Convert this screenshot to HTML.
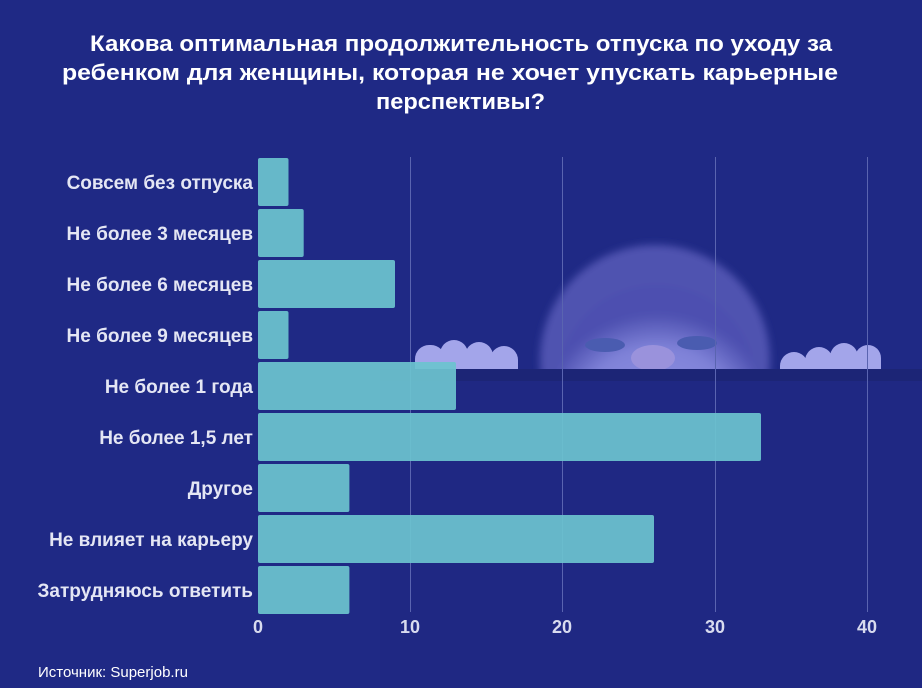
<!DOCTYPE html>
<html><head><meta charset="utf-8"><style>
body{margin:0;width:922px;height:688px;overflow:hidden;background:#1f2985;font-family:"Liberation Sans",sans-serif}
</style></head><body>
<svg width="922" height="688" xmlns="http://www.w3.org/2000/svg" style="position:absolute;left:0;top:0">
<defs>
<radialGradient id="face" cx="0.5" cy="0.75" r="0.6"><stop offset="0" stop-color="#9496e6"/><stop offset="0.7" stop-color="#7f82d8"/><stop offset="1" stop-color="#4d50b0"/></radialGradient>
<filter id="bl"><feGaussianBlur stdDeviation="4"/></filter>
</defs>
<rect width="922" height="688" fill="#1f2985"/>
<g filter="url(#bl)">
<ellipse cx="655" cy="360" rx="115" ry="115" fill="#4f53b0"/>
<ellipse cx="657" cy="380" rx="98" ry="95" fill="url(#face)"/>
</g>
<ellipse cx="605" cy="345" rx="20" ry="7" fill="#4a5cb0"/>
<ellipse cx="697" cy="343" rx="20" ry="7" fill="#4a5cb0"/>
<ellipse cx="653" cy="358" rx="22" ry="13" fill="#9a92dc"/>
<g fill="#a3a5ea">
<rect x="415" y="345" width="30" height="40" rx="14"/><rect x="440" y="340" width="28" height="50" rx="14"/><rect x="465" y="342" width="28" height="52" rx="14"/><rect x="490" y="346" width="28" height="40" rx="14"/>
<rect x="780" y="352" width="28" height="36" rx="14"/><rect x="805" y="347" width="28" height="48" rx="14"/><rect x="830" y="343" width="28" height="46" rx="14"/><rect x="855" y="345" width="26" height="40" rx="13"/>
</g>
<rect x="380" y="369" width="542" height="319" fill="#1f2883"/>
<rect x="380" y="369" width="542" height="12" fill="#1c2576"/>
<g stroke="#5a64b0" stroke-width="1">
<line x1="410.5" y1="157" x2="410.5" y2="612"/><line x1="562.5" y1="157" x2="562.5" y2="612"/><line x1="715.5" y1="157" x2="715.5" y2="612"/><line x1="867.5" y1="157" x2="867.5" y2="612"/>
</g>
<g fill="#6cc3cf" fill-opacity="0.93">
<rect x="258" y="158" width="30.5" height="48" rx="2"/>
<rect x="258" y="209" width="45.7" height="48" rx="2"/>
<rect x="258" y="260" width="137" height="48" rx="2"/>
<rect x="258" y="311" width="30.5" height="48" rx="2"/>
<rect x="258" y="362" width="198" height="48" rx="2"/>
<rect x="258" y="413" width="503" height="48" rx="2"/>
<rect x="258" y="464" width="91.4" height="48" rx="2"/>
<rect x="258" y="515" width="396" height="48" rx="2"/>
<rect x="258" y="566" width="91.4" height="48" rx="2"/>
</g>
<g fill="#e4e6f4" font-weight="bold" font-size="19" text-anchor="end">
<text x="253" y="189">Совсем без отпуска</text>
<text x="253" y="240">Не более 3 месяцев</text>
<text x="253" y="291">Не более 6 месяцев</text>
<text x="253" y="342">Не более 9 месяцев</text>
<text x="253" y="393">Не более 1 года</text>
<text x="253" y="444">Не более 1,5 лет</text>
<text x="253" y="495">Другое</text>
<text x="253" y="546">Не влияет на карьеру</text>
<text x="253" y="597">Затрудняюсь ответить</text>
</g>
<g fill="#d8dbef" font-weight="bold" font-size="18" text-anchor="middle">
<text x="258" y="633">0</text><text x="410" y="633">10</text><text x="562" y="633">20</text><text x="715" y="633">30</text><text x="867" y="633">40</text>
</g>
<g fill="#ffffff" font-weight="bold" font-size="22">
<text x="90" y="51" textLength="742" lengthAdjust="spacingAndGlyphs">Какова оптимальная продолжительность отпуска по уходу за</text>
<text x="62" y="80" textLength="776" lengthAdjust="spacingAndGlyphs">ребенком для женщины, которая не хочет упускать карьерные</text>
<text x="376" y="109" textLength="169" lengthAdjust="spacingAndGlyphs">перспективы?</text>
</g>
<text x="38" y="677" fill="#ffffff" font-size="15">Источник: Superjob.ru</text>
</svg>
</body></html>
